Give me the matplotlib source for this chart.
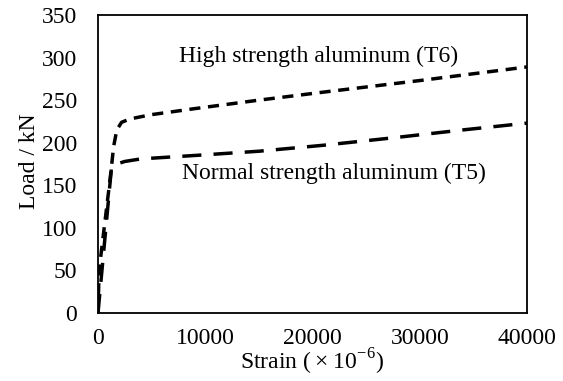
import numpy as np
import matplotlib.pyplot as plt

plt.rcParams['font.family'] = ['Liberation Serif', 'DejaVu Serif']
plt.rcParams['mathtext.fontset'] = 'custom'
plt.rcParams['mathtext.rm'] = 'Liberation Serif'

# high strength aluminum (T6)
t6_strain = [0, 100, 1200, 1450, 1750, 2200, 3000, 5000, 9000, 15000, 21400, 30000, 40000]
t6_load = [0, 50, 165, 195, 215, 224, 228, 233, 240, 250, 260, 273, 289]

# normal strength aluminum (T5)
t5_strain = [0, 1250, 1500, 2500, 4000, 9000, 15000, 21000, 27700, 34000, 40000]
t5_load = [0, 170, 174, 178, 181, 185, 190, 197, 206, 215, 223]

x_ticks = [0, 10000, 20000, 30000, 40000]
y_ticks = [0, 50, 100, 150, 200, 250, 300, 350]

fig = plt.figure(figsize=(5.63, 3.81), dpi=100)
ax = fig.add_axes([98/563, 1 - 313/381, 429/563, 298/381])

ax.plot(t6_strain, t6_load, color='black', linewidth=2.5, linestyle=(0, (3.2, 2.2)))
ax.plot(t5_strain, t5_load, color='black', linewidth=2.5, linestyle=(0, (5.5, 3.5)))

ax.text(20600, 301, 'High strength aluminum (T6)', ha='center', va='center', fontsize=17)
ax.text(21960, 164, 'Normal strength aluminum (T5)', ha='center', va='center', fontsize=17)

ax.set_xlim(0, 40000)
ax.set_ylim(0, 350)
ax.set_xticks(x_ticks)
ax.set_yticks(y_ticks)
ax.tick_params(length=0, labelsize=17)
ax.tick_params(axis='x', pad=11)
ax.tick_params(axis='y', pad=15)
for s in ax.spines.values():
    s.set_linewidth(1.3)

ax.set_xlabel('Strain (\u2009\u00d7\u200910$^{\\mathrm{-6}}$)', fontsize=17)
ax.xaxis.set_label_coords(0.5, -0.112)
ax.xaxis.label.set_va('top')
ax.set_ylabel('Load / kN', fontsize=17)
ax.yaxis.set_label_coords(-0.135, 0.51)

fig.savefig('out.png', dpi=100)
